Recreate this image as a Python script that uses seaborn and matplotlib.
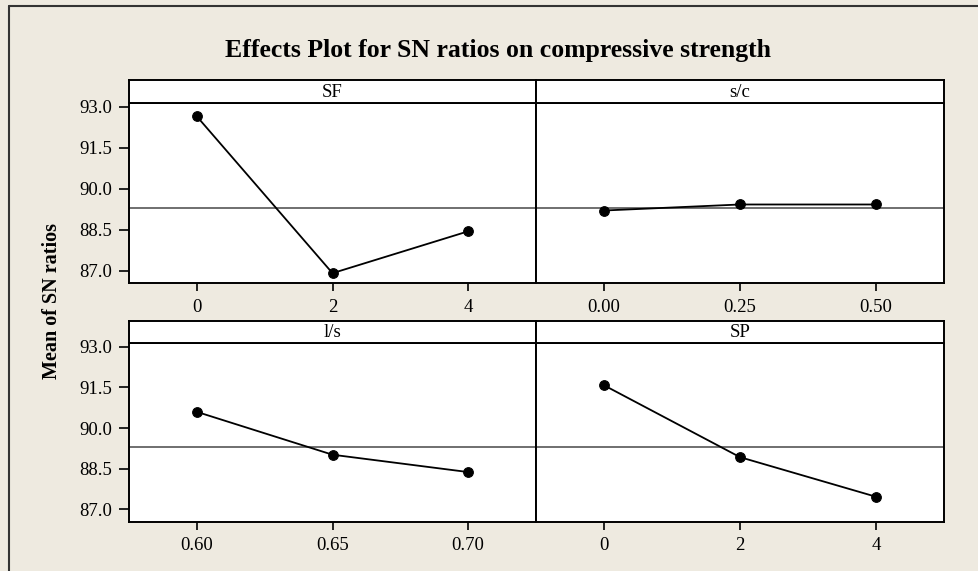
import numpy as np
import pandas as pd
import seaborn as sns
import matplotlib
matplotlib.use("Agg")
import matplotlib.pyplot as plt
from matplotlib.lines import Line2D

# ---- data ----
factors = ["SF", "s/c", "l/s", "SP"]
sf_levels = [0, 2, 4]
sf_means = [92.65, 86.92, 88.45]
sc_levels = [0.00, 0.25, 0.50]
sc_means = [89.21, 89.43, 89.43]
ls_levels = [0.60, 0.65, 0.70]
ls_means = [90.60, 89.02, 88.38]
sp_levels = [0, 2, 4]
sp_means = [91.58, 88.93, 87.47]
sf_ticklabels = ["0", "2", "4"]
sc_ticklabels = ["0.00", "0.25", "0.50"]
ls_ticklabels = ["0.60", "0.65", "0.70"]
sp_ticklabels = ["0", "2", "4"]
y_ticks = [87.0, 88.5, 90.0, 91.5, 93.0]
y_ticklabels = ["87.0", "88.5", "90.0", "91.5", "93.0"]
grand_mean = 89.29

title = "Effects Plot for SN ratios on compressive strength"
ylabel = "Mean of SN ratios"

sns.set_theme(style="white")
plt.rcParams["font.family"] = ["Liberation Serif", "DejaVu Serif"]
plt.rcParams["text.color"] = "black"
plt.rcParams["xtick.color"] = "black"
plt.rcParams["ytick.color"] = "black"
plt.rcParams["xtick.labelcolor"] = "black"
plt.rcParams["ytick.labelcolor"] = "black"

BG = "#EEEAE0"
W, H = 979, 571
fig = plt.figure(figsize=(W / 100, H / 100), dpi=100, facecolor=BG)


def fr(x0, y0, x1, y1):
    # pixel box (top-left origin) -> figure fraction rect
    return [x0 / W, 1 - y1 / H, (x1 - x0) / W, (y1 - y0) / H]


panels = [
    ("SF", sf_levels, sf_means, sf_ticklabels, (129, 80, 102.7, 283.3, 536), True),
    ("s/c", sc_levels, sc_means, sc_ticklabels, (536, 80, 102.7, 283.3, 944), False),
    ("l/s", ls_levels, ls_means, ls_ticklabels, (129, 321, 342.7, 521.7, 536), True),
    ("SP", sp_levels, sp_means, sp_ticklabels, (536, 321, 342.7, 521.7, 944), False),
]

for name, lev, means, tlabels, (x0, st, y0, y1, x1), left in panels:
    ax = fig.add_axes(fr(x0, y0, x1, y1))
    ax.set_facecolor("white")
    df = pd.DataFrame({"level": lev, "mean": means})
    ax.axhline(grand_mean, color="#484848", lw=1.1, zorder=1)
    sns.lineplot(data=df, x="level", y="mean", ax=ax, color="black", lw=1.3,
                 marker="o", markersize=7, markeredgecolor="black",
                 markerfacecolor="black", zorder=3)
    step = lev[1] - lev[0]
    ax.set_xlim(lev[0] - step / 2, lev[-1] + step / 2)
    ax.set_ylim(86.55, 93.15)
    ax.set_xticks(lev)
    ax.set_xticklabels(tlabels, fontsize=13.5)
    ax.set_yticks(y_ticks)
    if left:
        ax.set_yticklabels(y_ticklabels, fontsize=13.5)
        ax.tick_params(axis="y", which="both", left=True, length=7, width=1.2,
                       color="black", pad=5, direction="out")
    else:
        ax.set_yticklabels([])
        ax.tick_params(axis="y", left=False)
    ax.tick_params(axis="x", bottom=True, length=6, width=1.2, color="black",
                   pad=5, direction="out")
    ax.set_xlabel("")
    ax.set_ylabel("")
    for s in ax.spines.values():
        s.set_color("black")
        s.set_linewidth(1.4)

    sax = fig.add_axes(fr(x0, st, x1, y0))
    sax.set_facecolor("white")
    sax.set_xticks([])
    sax.set_yticks([])
    for s in sax.spines.values():
        s.set_color("black")
        s.set_linewidth(1.4)
    sax.text(0.5, 0.45, name, ha="center", va="center", fontsize=13.5,
             transform=sax.transAxes)

fig.text(498 / W, 1 - 50 / H, title, ha="center", va="center",
         fontsize=18.5, fontweight="bold")
fig.text(52 / W, 1 - 301 / H, ylabel, ha="center", va="center",
         rotation=90, fontsize=14.5, fontweight="bold")

# outer frame (top and left edges)
fig.add_artist(Line2D([9 / W, 1.0], [1 - 6 / H, 1 - 6 / H], color="#333333",
                      lw=1.5, transform=fig.transFigure))
fig.add_artist(Line2D([9 / W, 9 / W], [0, 1 - 6 / H], color="#333333",
                      lw=1.5, transform=fig.transFigure))

fig.savefig("out.png", dpi=100, facecolor=BG)
